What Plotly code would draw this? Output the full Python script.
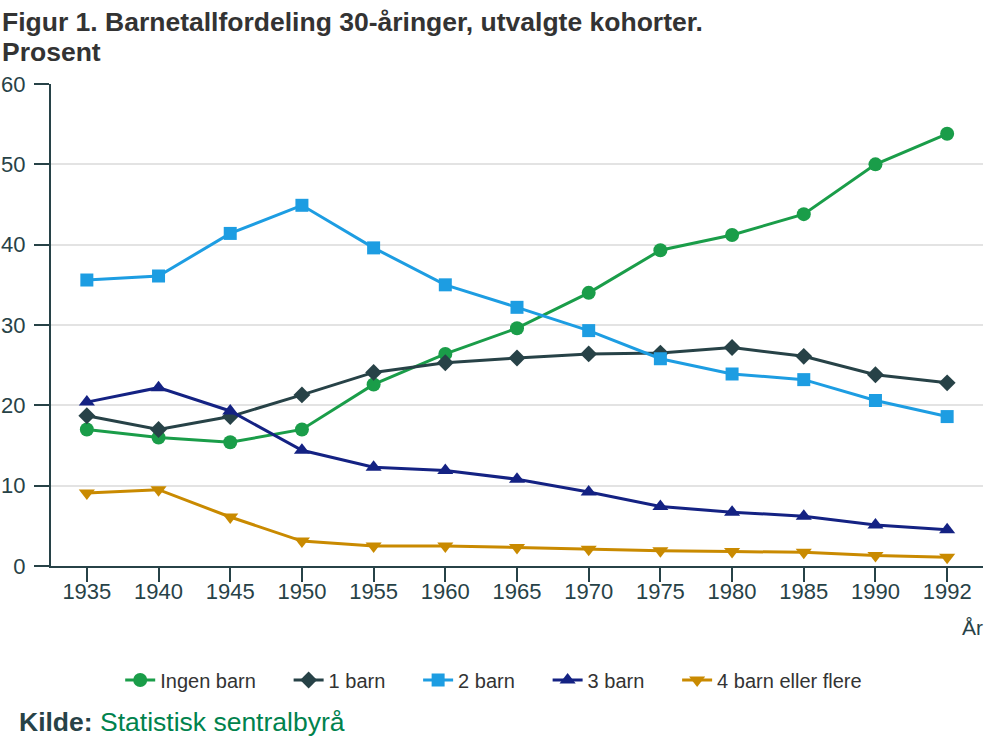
import plotly.graph_objects as go

years = ["1935", "1940", "1945", "1950", "1955", "1960", "1965", "1970", "1975", "1980", "1985", "1990", "1992"]
ingen_barn = [17.0, 16.0, 15.4, 17.0, 22.6, 26.4, 29.6, 34.0, 39.3, 41.2, 43.8, 50.0, 53.8]
ett_barn = [18.7, 17.0, 18.6, 21.3, 24.1, 25.3, 25.9, 26.4, 26.5, 27.2, 26.1, 23.8, 22.8]
to_barn = [35.6, 36.1, 41.4, 44.9, 39.6, 35.0, 32.2, 29.3, 25.8, 23.9, 23.2, 20.6, 18.6]
tre_barn = [20.4, 22.2, 19.3, 14.4, 12.3, 11.9, 10.8, 9.2, 7.4, 6.7, 6.2, 5.1, 4.5]
fire_barn = [9.1, 9.5, 6.1, 3.1, 2.5, 2.5, 2.3, 2.1, 1.9, 1.8, 1.7, 1.3, 1.1]

series = [
    ("Ingen barn", ingen_barn, "#1a9d49", "circle", 14),
    ("1 barn", ett_barn, "#274247", "diamond", 13),
    ("2 barn", to_barn, "#1d9de2", "square", 13),
    ("3 barn", tre_barn, "#142283", "triangle-up", 14),
    ("4 barn eller flere", fire_barn, "#c98a00", "triangle-down", 14),
]

fig = go.Figure()
for i, (name, vals, col, sym, sz) in enumerate(series):
    pad = "\u00a0" * 5 if i < len(series) - 1 else ""
    fig.add_trace(go.Scatter(
        x=years, y=vals, name=name + pad, mode="lines+markers",
        line=dict(color=col, width=3),
        marker=dict(symbol=sym, size=sz, color=col),
    ))

font = "Liberation Sans, Arial, sans-serif"
axis_col = "#274247"

fig.update_layout(
    width=1000, height=750,
    paper_bgcolor="white", plot_bgcolor="white",
    margin=dict(l=51, r=17, t=84, b=184, autoexpand=False),
    font=dict(family=font, color=axis_col, size=20),
    showlegend=True,
    legend=dict(orientation="h", x=0.475, xanchor="center", y=-0.2365, yanchor="middle",
                font=dict(size=20, color="#333333"), traceorder="normal"),
    xaxis=dict(type="category", range=[-0.5, len(years) - 0.5], showgrid=False, showline=True,
               linecolor=axis_col, linewidth=2,
               ticks="outside", ticklen=14, tickcolor=axis_col, tickwidth=1.5, automargin=False,
               ticklabelstandoff=-9,
               tickfont=dict(size=22, color=axis_col)),
    yaxis=dict(range=[0, 60], dtick=10, showgrid=True, gridcolor="#e3e3e3", gridwidth=1.5,
               showline=True, linecolor=axis_col, linewidth=2, zeroline=False, automargin=False,
               ticks="outside", ticklen=15, tickcolor=axis_col, tickwidth=1.5,
               ticklabelstandoff=4,
               tickfont=dict(size=22, color=axis_col)),
    annotations=[
        dict(text="<b>Figur 1. Barnetallfordeling 30-åringer, utvalgte kohorter.</b>",
             xref="paper", yref="paper", x=-0.0547, y=1.0, yshift=62, xanchor="left", yanchor="middle",
             showarrow=False, font=dict(size=26.5, color="#333333")),
        dict(text="<b>Prosent</b>",
             xref="paper", yref="paper", x=-0.0547, y=1.0, yshift=32, xanchor="left", yanchor="middle",
             showarrow=False, font=dict(size=26.5, color="#333333")),
        dict(text="År", xref="paper", yref="paper", x=1.002, y=0, yshift=-61, xanchor="right", yanchor="middle",
             showarrow=False, font=dict(size=21, color=axis_col)),
        dict(text="<b>Kilde:</b> <span style='color:#00824d'>Statistisk sentralbyrå</span>",
             xref="paper", yref="paper", x=-0.0365, y=0, yshift=-156, xanchor="left", yanchor="middle",
             showarrow=False, font=dict(size=26.5, color=axis_col)),
    ],
)

fig.write_html("out.html", config={"displayModeBar": False},
               post_script="document.body.style.margin='0';")
